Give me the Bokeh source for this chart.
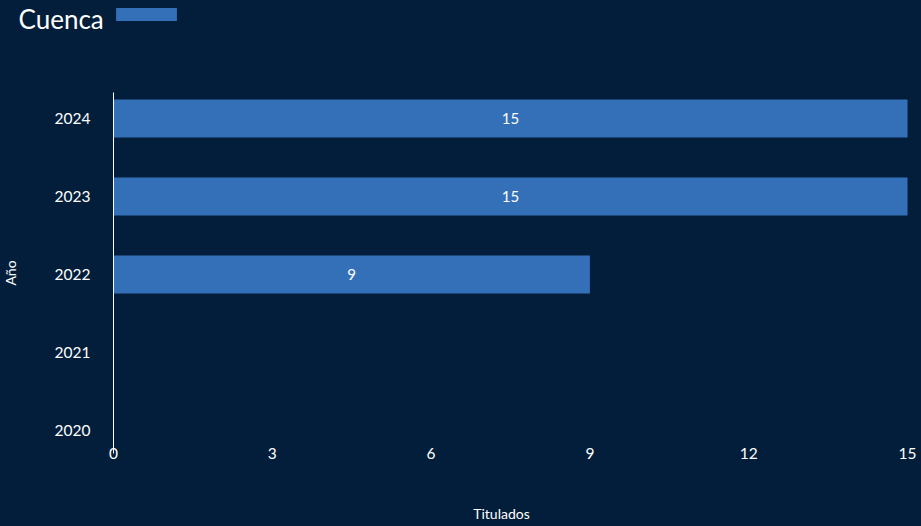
from bokeh.plotting import figure
from bokeh.models import (Range1d, FixedTicker, ColumnDataSource, Legend, LegendItem, LabelSet,
                          Label, LinearAxis)
from bokeh.core.properties import value
from bokeh.embed import file_html
from bokeh.resources import INLINE

years = ["2020", "2021", "2022", "2023", "2024"]
titulados = [0, 0, 9, 15, 15]
x_ticks = [0, 3, 6, 9, 12, 15]
title_text = "Cuenca"
x_label = "Titulados"
y_label = "Año"

BG = "#021e3b"
BAR = "#3470b8"
TXT = "#ffffff"
FONT = "Lato"

W, H = 921, 526
# plot-area geometry (pixels) used to build the ranges
PX_X = 52.933          # pixels per unit on x
PX_Y = 78.0            # pixels per year on y
LEFT, RIGHT = 113, 14  # space left of 0 / right of 15
TOP_C, BOT_C = 118, 96 # space above last / below first category centre

ypos = [int(y) for y in years]
src = ColumnDataSource(dict(y=ypos, v=titulados, mid=[v / 2 for v in titulados],
                            lab=[str(v) if v else "" for v in titulados]))

xr = Range1d(x_ticks[0] - LEFT / PX_X, x_ticks[-1] + RIGHT / PX_X)
yr = Range1d(ypos[0] - BOT_C / PX_Y, ypos[-1] + TOP_C / PX_Y)
y_lo, y_hi = ypos[0] - 23 / PX_Y, ypos[-1] + 26 / PX_Y

p = figure(width=W, height=H, output_backend="svg", toolbar_location=None,
           x_range=xr, y_range=yr, x_axis_location=None, y_axis_location=None,
           background_fill_color=BG, border_fill_color=BG, min_border=0)
p.outline_line_color = None
p.grid.visible = False

r = p.hbar(y="y", left=0, right="v", height=0.49, source=src, color=BAR, line_color=None)

labels = LabelSet(x="mid", y="y", text="lab", source=src, text_align="center", text_baseline="middle",
                  text_color=TXT, text_font=value(FONT), text_font_size="15px")
p.add_layout(labels)

title = Label(x=18, y=H - 18, x_units="screen", y_units="screen", text=title_text,
              text_font=FONT, text_font_size="26px", text_color=TXT,
              text_align="left", text_baseline="middle")
p.add_layout(title)

leg = Legend(items=[LegendItem(label=" ", renderers=[r])], location=(108, H - 6 - 16),
             glyph_width=76, glyph_height=16, label_height=16, label_width=0, label_standoff=0,
             label_text_font_size="1px", padding=0, margin=0, spacing=0,
             border_line_color=None, background_fill_alpha=0)
p.add_layout(leg, "center")

xa = LinearAxis(fixed_location=y_lo, bounds=(-0.34, x_ticks[-1]), ticker=FixedTicker(ticks=x_ticks),
                axis_label=x_label)
ya = LinearAxis(fixed_location=0, bounds=(y_lo, y_hi), ticker=FixedTicker(ticks=ypos),
                axis_label=y_label)
ya.major_label_overrides = {int(y): y for y in years}

for ax in (xa, ya):
    ax.major_label_text_font = FONT
    ax.major_label_text_font_size = "15.5px"
    ax.major_label_text_color = TXT
    ax.major_tick_line_color = None
    ax.minor_tick_line_color = None
    ax.major_tick_out = 0
    ax.axis_label_text_font = FONT
    ax.axis_label_text_font_size = "14px"
    ax.axis_label_text_font_style = "normal"
    ax.axis_label_text_color = TXT

xa.axis_line_color = None
xa.major_label_standoff = -6
xa.axis_label_standoff = 43

ya.axis_line_color = TXT
ya.axis_line_width = 1
ya.major_label_standoff = 23
ya.axis_label_standoff = 33

p.add_layout(xa, "below")
p.add_layout(ya, "left")

html = file_html(p, INLINE)
html = html.replace("<head>", "<head><style>html,body{background:%s;}</style>" % BG, 1)
open("out.html", "w").write(html)
